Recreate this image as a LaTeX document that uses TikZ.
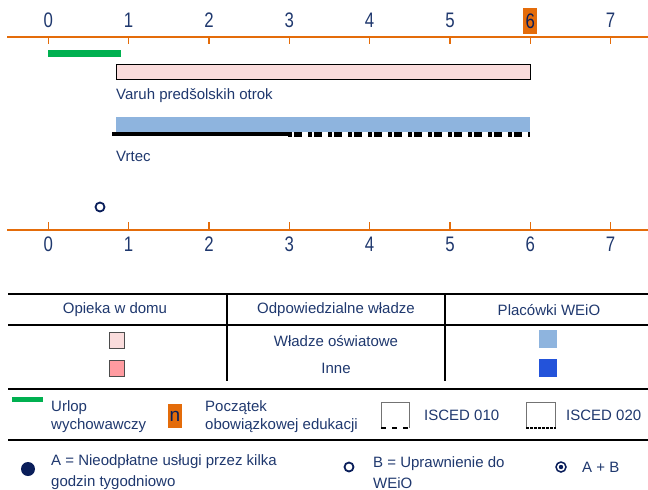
\documentclass[tikz,border=0pt]{standalone}
\usepackage{fontspec}
\setmainfont{Liberation Sans}
\newfontfamily\axisfont[FakeStretch=0.8]{Liberation Sans}
\definecolor{navy}{RGB}{31,56,110}
\definecolor{dotnavy}{RGB}{10,30,90}
\definecolor{axorange}{RGB}{228,108,10}
\definecolor{leavegreen}{RGB}{0,176,80}
\definecolor{lightpink}{RGB}{250,220,220}
\definecolor{darkpink}{RGB}{255,155,160}
\definecolor{lightblue}{RGB}{142,180,222}
\definecolor{strongblue}{RGB}{35,83,218}
\begin{document}
\begin{tikzpicture}[x=1pt,y=-1pt,
  txt/.style={inner sep=0pt, text=navy, font=\fontsize{15}{18}\selectfont},
  ltxt/.style={txt, anchor=west, align=left},
  axnum/.style={inner sep=0pt, text=navy, font=\axisfont\fontsize{21}{21}\selectfont},
  axisline/.style={draw=axorange, line width=2pt},
  tickline/.style={draw=axorange, line width=1.5pt},
  rule/.style={draw=black, line width=2.5pt},
  vrule/.style={draw=black, line width=2pt},
  sq/.style={minimum width=14pt, minimum height=17pt, inner sep=0pt}
]
\useasboundingbox (0,0) rectangle (648,490);

% ---- top axis
\draw[axisline] (7,37) -- (648,37);
\foreach \n in {0,1,2,3,4,5,7} {
  \node[axnum] (top\n) at ({48.3+80.33*\n},20) {\n};
}
\node[axnum, fill=axorange, minimum width=14pt, minimum height=26pt, text=dotnavy] (top6) at ({48.3+80.33*6},21) {6};
\foreach \n in {0,...,7} {
  \draw[tickline] ({48.3+80.33*\n},37) -- ++(0,7);
}

% ---- bars
\fill[leavegreen] (48,50) rectangle (121,57);
\draw[black, line width=1pt, fill=lightpink] (116.5,64) rectangle (530,79);
\node[ltxt] (varuh) at (116,96) {Varuh predšolskih otrok};
\fill[lightblue] (116,117) rectangle (530,132);
\draw[black, line width=4pt] (112,134) -- (288,134);
\draw[black, line width=5pt, dash pattern=on 4pt off 1.5pt on 8pt off 6.5pt] (288,134.5) -- (530,134.5);
\node[ltxt] (vrtec) at (116,156) {Vrtec};

\draw[dotnavy, line width=1.8pt] (100,207) circle (4.5);

% ---- bottom axis
\draw[axisline] (7,230) -- (648,230);
\foreach \n in {0,...,7} {
  \draw[tickline] ({48.3+80.33*\n},222) -- ++(0,8);
  \node[axnum] (bot\n) at ({48.3+80.33*\n},244) {\n};
}

% ---- table
\draw[rule] (8,294) -- (648,294);
\draw[rule] (8,325) -- (648,325);
\draw[vrule] (227,294) -- (227,381);
\draw[vrule] (445,294) -- (445,381);
\node[txt] (h1) at (115,310) {Opieka w domu};
\node[txt] (h2) at (336,310) {Odpowiedzialne władze};
\node[txt] (h3) at (549,310) {Placówki WEiO};
\node[sq, draw=black!70, line width=1pt, fill=lightpink, minimum width=15pt, minimum height=16pt] (s1) at (117,340) {};
\node[sq, draw=black!70, line width=1pt, fill=darkpink, minimum width=15pt, minimum height=16pt] (s2) at (117,368) {};
\node[txt] (r1) at (336,341) {Władze oświatowe};
\node[txt] (r2) at (336,368) {Inne};
\node[sq, fill=lightblue, minimum width=18pt, minimum height=18pt] (b1) at (548,339) {};
\node[sq, fill=strongblue, minimum width=18pt, minimum height=18pt] (b2) at (548,368) {};
\draw[rule] (8,389) -- (648,389);

% ---- legend row 1
\fill[leavegreen] (12,397) rectangle (43,402);
\node[ltxt] (urlop) at (51,417) {Urlop\\wychowawczy};
\node[inner sep=0pt, fill=axorange, minimum width=14pt, minimum height=24pt, text=dotnavy, font=\fontsize{19}{19}\selectfont] (nbox) at (175,416) {n};
\node[ltxt] (pocz) at (205,417) {Początek\\obowiązkowej edukacji};
\draw[black!55, line width=0.8pt] (381.5,428) -- (381.5,402.5) -- (409,402.5) -- (409,428);
\draw[black, line width=2pt, dash pattern=on 5pt off 6pt] (381,428) -- (411,428);
\node[ltxt] (is010) at (424,415) {ISCED 010};
\draw[black!55, line width=0.8pt] (526.5,428) -- (526.5,402.5) -- (555,402.5) -- (555,428);
\draw[black, line width=2.5pt, dash pattern=on 3pt off 1pt] (526,428) -- (556,428);
\node[ltxt] (is020) at (566,415) {ISCED 020};
\draw[rule] (8,440) -- (648,440);

% ---- legend row 2
\fill[dotnavy] (28,469) circle (7);
\node[ltxt, font=\fontsize{15}{21}\selectfont] (lA) at (51,472.5) {A = Nieodpłatne usługi przez kilka\\godzin tygodniowo};
\draw[dotnavy, line width=1.8pt] (349,467) circle (4.5);
\node[ltxt, font=\fontsize{15}{21}\selectfont] (lB) at (373,472.5) {B = Uprawnienie do\\WEiO};
\draw[dotnavy, line width=1.5pt] (561,467) circle (5);
\fill[dotnavy] (561,467) circle (2.2);
\node[ltxt] (lAB) at (582,467) {A + B};
\end{tikzpicture}
\end{document}
